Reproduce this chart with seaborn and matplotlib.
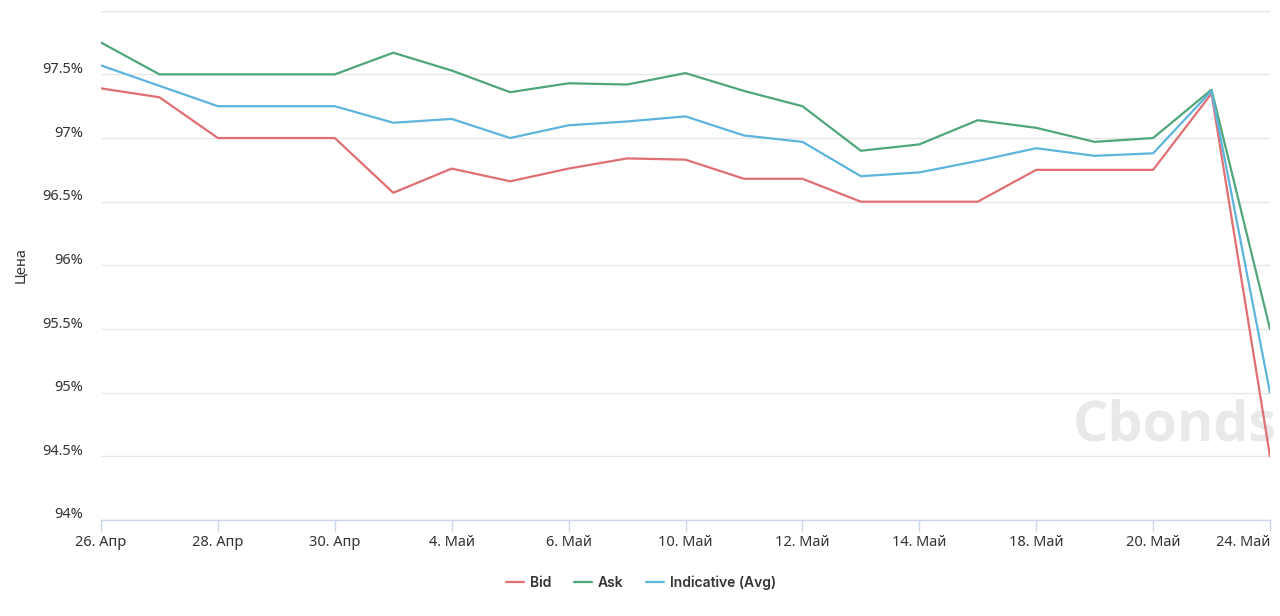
import matplotlib
matplotlib.use("Agg")
import matplotlib.pyplot as plt
import matplotlib.transforms as mtransforms
import seaborn as sns
import pandas as pd
from matplotlib.ticker import FuncFormatter, FixedLocator

dates = ["26. Апр", "27. Апр", "28. Апр", "29. Апр", "30. Апр", "3. Май", "4. Май",
         "5. Май", "6. Май", "7. Май", "10. Май", "11. Май", "12. Май", "13. Май",
         "14. Май", "17. Май", "18. Май", "19. Май", "20. Май", "21. Май", "24. Май"]
bid = [97.39, 97.32, 97.00, 97.00, 97.00, 96.57, 96.76, 96.66, 96.76, 96.84, 96.83,
       96.68, 96.68, 96.50, 96.50, 96.50, 96.75, 96.75, 96.75, 97.35, 94.50]
ask = [97.75, 97.50, 97.50, 97.50, 97.50, 97.67, 97.53, 97.36, 97.43, 97.42, 97.51,
       97.37, 97.25, 96.90, 96.95, 97.14, 97.08, 96.97, 97.00, 97.38, 95.50]
avg = [97.57, 97.41, 97.25, 97.25, 97.25, 97.12, 97.15, 97.00, 97.10, 97.13, 97.17,
       97.02, 96.97, 96.70, 96.73, 96.82, 96.92, 96.86, 96.88, 97.37, 95.00]
series_names = ["Bid", "Ask", "Indicative (Avg)"]
colors = ["#e06f72", "#4ea67a", "#5db4dc"]
y_ticks = [94, 94.5, 95, 95.5, 96, 96.5, 97, 97.5, 98]

sns.set_theme(style="white")
plt.rcParams['font.family'] = ['Noto Sans', 'DejaVu Sans']

rows = []
for name, vals in zip(series_names, [bid, ask, avg]):
    for i, v in enumerate(vals):
        rows.append({"idx": i, "value": v, "series": name})
df = pd.DataFrame(rows)

fig = plt.figure(figsize=(12.8, 6.16), dpi=100)
ax = fig.add_axes([101/1280, 96/616, 1169/1280, 509.3/616])

sns.lineplot(data=df, x="idx", y="value", hue="series", hue_order=series_names,
             palette=colors, linewidth=1.6, ax=ax, legend=True)

ax.set_xlim(0, len(dates) - 1)
ax.set_ylim(94, 98)
ax.yaxis.set_major_locator(FixedLocator(y_ticks))
ax.yaxis.set_major_formatter(FuncFormatter(lambda v, p: "" if v >= 98 else f"{v:g}%"))
ax.grid(axis="y", color="#e6e6e6", linewidth=1)
ax.set_axisbelow(True)
tick_pos = list(range(0, len(dates), 2))
ax.set_xticks(tick_pos)
ax.set_xticklabels([dates[i] for i in tick_pos])
xt = ax.get_xticklabels()
xt[-1].set_horizontalalignment("right")
xt[-1].set_transform(xt[-1].get_transform() + mtransforms.ScaledTranslation(0.02, 0, fig.dpi_scale_trans))
for s in ["top", "right", "left"]:
    ax.spines[s].set_visible(False)
ax.spines["bottom"].set_color("#ccd6eb")
ax.spines["bottom"].set_linewidth(1)
ax.tick_params(axis="x", colors="#333333", labelsize=10.5, length=8, width=1,
               direction="out", pad=3, bottom=True)
ax.tick_params(axis="x", color="#ccd6eb")
ax.tick_params(axis="y", colors="#333333", labelsize=10.5, length=0, pad=13)
offset = mtransforms.ScaledTranslation(0, 0.07, fig.dpi_scale_trans)
for lab in ax.get_yticklabels():
    lab.set_transform(lab.get_transform() + offset)
ax.set_xlabel("")
ax.set_ylabel("Цена", fontsize=10.5, color="#333333")
ax.yaxis.set_label_coords(-0.0624, 0.5)

ax.text(0.8315, 0.185, "Cbonds", transform=ax.transAxes, ha="left", va="center",
        fontsize=40, fontweight="bold", color="#e9e9e9", zorder=0, family="Open Sans",
        clip_on=False)

leg = ax.legend(loc="upper center", bbox_to_anchor=(0.462, -0.085), ncol=3,
                frameon=False, handlelength=1.3, columnspacing=1.65, handletextpad=0.4,
                prop={"family": "Inter", "weight": "semibold", "size": 10})
for t in leg.get_texts():
    t.set_color("#333333")

fig.savefig("out.png", dpi=100)
